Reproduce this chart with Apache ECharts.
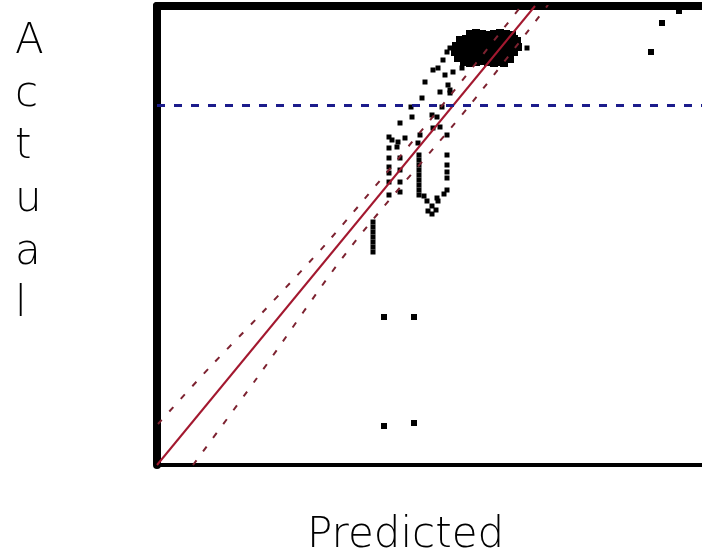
<!DOCTYPE html>
<html>
<head>
<meta charset="utf-8">
<script src="https://cdn.jsdelivr.net/npm/echarts@6/dist/echarts.min.js"></script>
<style>
html,body{margin:0;padding:0;background:#fff;}
#chart{width:702px;height:558px;}
</style>
</head>
<body>
<div id="chart"></div>
<script>
const denseCluster = [
  [313,431],[319,432],[325,431],[331,430],[337,431],[343,432],[349,431],[355,430],
  [303,425],[309,426],[315,425],[321,424],[327,425],[333,426],[339,425],[345,424],[351,425],[357,426],[360,424],
  [299,419],[305,420],[311,419],[317,418],[323,419],[329,420],[335,419],[341,418],[347,419],[353,420],[358,419],[361,418],
  [298,413],[304,412],[310,413],[316,414],[322,413],[328,412],[334,413],[340,414],[346,413],[352,412],[357,413],
  [301,407],[307,406],[313,407],[319,408],[325,407],[331,406],[337,407],[343,408],[349,407],[353,406],
  [307,403],[313,402],[319,403],[325,404],[331,403],[337,402],[343,403],[347,402]
];
const diagonalPoints = [
  [265,367],[268,383],[276,395],[288,390],[293,375],[283,373],[285,358],[275,350],
  [280,348],[283,338],[276,337],[290,330],[263,330],[261,322],[290,413],[286,405],
  [281,397],[296,393],[305,397],[293,417],[370,417],[291,380],[293,372]
];
const leftColumns = [
  [254,358],[255,348],[243,342],[232,328],[241,323],[248,327],[240,318],[232,317],
  [232,307],[243,307],[232,298],[243,295],[232,292],[232,283],[243,283],[243,273],
  [232,270],[235,325]
];
const uShape = [
  [262,310],[262,305],[262,300],[262,295],[262,290],[262,285],[262,280],[262,275],[262,270],
  [290,310],[290,300],[290,293],[290,287],[290,275],
  [267,269],[280,267],[287,271],[270,264],[281,264],[275,259],[271,254],[279,255],[275,251]
];
const verticalBar = [[216,243],[216,238],[216,233],[216,228],[216,223],[216,218],[216,213]];
const outliers = [[227,148],[257,148],[227,39],[257,42],[494,413],[505,442],[522,454]];

const fitLine   = [[0,0],[378,459]];
const upperBand = [[1,41],[53,98],[103,150],[175,228],[283,357],[365,460]];
const lowerBand = [[36,0],[100,87],[193,217],[313,360],[391,460]];
const referenceLevel = [360];

const axisTitleY = 'A\nc\nt\nu\na\nl';
const axisTitleX = 'Predicted';

const chart = echarts.init(document.getElementById('chart'), null, {renderer:'canvas'});
const scatterStyle = (data, size) => ({
  type:'scatter', data, symbol:'rect', symbolSize:size, silent:true,
  itemStyle:{color:'#000', opacity:1, borderWidth:0}, z:3
});
chart.setOption({
  animation:false,
  backgroundColor:'#fff',
  grid:{left:157, top:6, width:560, height:459, containLabel:false, outerBoundsMode:'none'},
  xAxis:[
    {type:'value', min:0, max:560, position:'bottom',
     axisLine:{show:true, onZero:false, lineStyle:{color:'#000', width:4}},
     axisTick:{show:false}, axisLabel:{show:false}, splitLine:{show:false}},
    {type:'value', min:0, max:560, position:'top',
     axisLine:{show:true, onZero:false, lineStyle:{color:'#000', width:8}},
     axisTick:{show:false}, axisLabel:{show:false}, splitLine:{show:false}}
  ],
  yAxis:{type:'value', min:0, max:459,
     axisLine:{show:true, onZero:false, lineStyle:{color:'#000', width:8}},
     axisTick:{show:false}, axisLabel:{show:false}, splitLine:{show:false}},
  title:[
    {text:axisTitleY, left:15, top:16, padding:0, itemGap:0,
     textStyle:{fontFamily:'DejaVu Sans', fontSize:42, fontWeight:200, color:'#000', lineHeight:52.6}},
  ],
  graphic:[
    {type:'text', left:307, top:515,
     style:{text:axisTitleX, fontFamily:'DejaVu Sans', fontSize:42, fontWeight:200, fill:'#000'}}
  ],
  series:[
    {type:'line', data:fitLine, symbol:'none', silent:true, clip:true, z:4,
     lineStyle:{color:'#a3182f', width:2}},
    {type:'line', data:upperBand, symbol:'none', smooth:0.3, silent:true, clip:true, z:4,
     lineStyle:{color:'#7d2230', width:2, type:[6,11]}},
    {type:'line', data:lowerBand, symbol:'none', smooth:0.3, silent:true, clip:true, z:4,
     lineStyle:{color:'#7d2230', width:2, type:[6,11]}},
    Object.assign(scatterStyle(denseCluster, 8), {
      markLine:{silent:true, symbol:'none', label:{show:false},
        lineStyle:{color:'#1c1c8c', width:3, type:[8,9]},
        data: referenceLevel.map(v => ({yAxis:v}))}
    }),
    scatterStyle(diagonalPoints, 5),
    scatterStyle(leftColumns, 5),
    scatterStyle(uShape, 5),
    scatterStyle(verticalBar, 5),
    scatterStyle(outliers, 6)
  ]
});
</script>
</body>
</html>
